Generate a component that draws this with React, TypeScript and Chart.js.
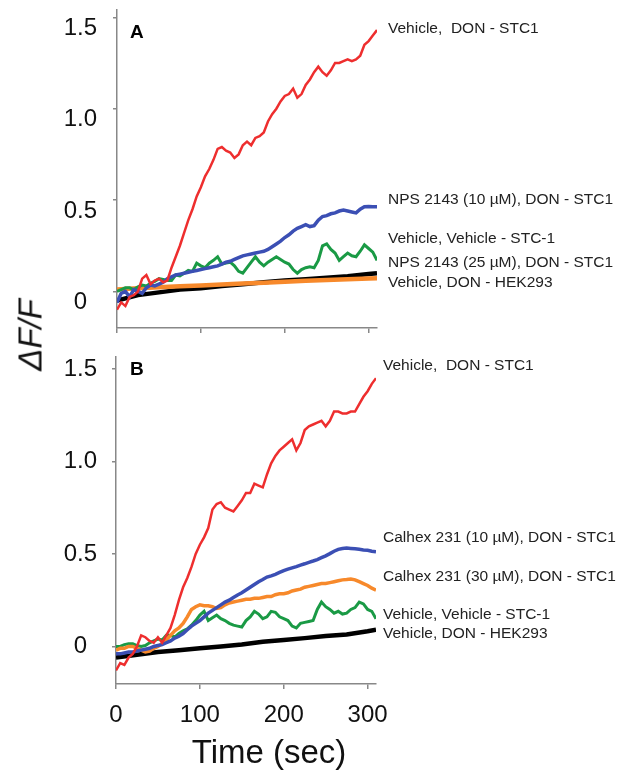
import React, { useEffect, useRef } from 'react';
import { Chart, registerables } from 'chart.js';

Chart.register(...registerables);

const FONT = '"Liberation Sans", Arial, Helvetica, sans-serif';

// Time axis (sec)
const TIME = [
  0, 5, 10, 15, 20, 25, 30, 35, 40, 45,
  50, 55, 60, 65, 70, 75, 80, 85, 90, 95,
  100, 105, 110, 115, 120, 125, 130, 135, 140, 145,
  150, 155, 160, 165, 170, 175, 180, 185, 190, 195,
  200, 205, 210, 215, 220, 225, 230, 235, 240, 245,
  250, 255, 260, 265, 270, 275, 280, 285, 290, 295,
  300, 305, 310,
];
const TIME_SMOOTH = [0, 25, 50, 75, 100, 125, 150, 175, 200, 225, 250, 275, 300, 310];
const X_TICKS = [0, 100, 200, 300];
const Y_TICKS = [0, 0.5, 1.0, 1.5];

// Panel A
const RED_A = [
  -0.10, -0.06, -0.08, -0.03, -0.02, 0.00, 0.07, 0.09, 0.04, 0.06,
  0.07, 0.05, 0.06, 0.13, 0.19, 0.25, 0.32, 0.39, 0.45, 0.52,
  0.57, 0.63, 0.67, 0.72, 0.78, 0.79, 0.77, 0.76, 0.73, 0.75,
  0.80, 0.82, 0.80, 0.84, 0.85, 0.87, 0.93, 0.97, 1.00, 1.04,
  1.07, 1.08, 1.11, 1.06, 1.08, 1.13, 1.16, 1.20, 1.23, 1.20,
  1.18, 1.21, 1.25, 1.25, 1.26, 1.27, 1.26, 1.27, 1.29, 1.35,
  1.37, 1.40, 1.43,
];
const BLUE_A = [
  -0.06, -0.01, 0.00, -0.03, 0.01, 0.00, -0.01, 0.02, 0.035, 0.03,
  0.04, 0.05, 0.07, 0.08, 0.09, 0.095, 0.10, 0.105, 0.11, 0.115,
  0.12, 0.125, 0.13, 0.135, 0.14, 0.15, 0.16, 0.165, 0.175, 0.185,
  0.195, 0.20, 0.205, 0.21, 0.215, 0.22, 0.23, 0.245, 0.26, 0.275,
  0.295, 0.31, 0.33, 0.345, 0.355, 0.365, 0.355, 0.36, 0.39, 0.41,
  0.415, 0.425, 0.43, 0.44, 0.445, 0.44, 0.435, 0.43, 0.45, 0.463,
  0.465, 0.463, 0.463,
];
const GREEN_A = [
  0.00, 0.01, 0.02, 0.02, 0.01, 0.025, 0.035, 0.03, 0.045, 0.055,
  0.07, 0.065, 0.06, 0.06, 0.09, 0.085, 0.10, 0.115, 0.11, 0.155,
  0.14, 0.13, 0.155, 0.17, 0.19, 0.15, 0.155, 0.16, 0.14, 0.11,
  0.10, 0.13, 0.16, 0.19, 0.16, 0.14, 0.16, 0.175, 0.19, 0.175,
  0.16, 0.15, 0.12, 0.10, 0.12, 0.13, 0.135, 0.13, 0.17, 0.25,
  0.26, 0.23, 0.21, 0.17, 0.19, 0.21, 0.195, 0.19, 0.22, 0.255,
  0.235, 0.215, 0.17,
];
const ORANGE_A = [0.01, 0.018, 0.023, 0.028, 0.033, 0.038, 0.043, 0.048, 0.053, 0.058, 0.063, 0.067, 0.071, 0.072];
const BLACK_A = [-0.05, -0.02, -0.005, 0.01, 0.018, 0.03, 0.04, 0.05, 0.06, 0.067, 0.075, 0.083, 0.096, 0.10];

// Panel B
const RED_B = [
  -0.13, -0.09, -0.10, -0.06, -0.04, 0.00, 0.06, 0.05, 0.03, 0.02,
  0.05, 0.02, 0.06, 0.10, 0.17, 0.25, 0.32, 0.37, 0.43, 0.50,
  0.55, 0.59, 0.64, 0.74, 0.77, 0.78, 0.75, 0.74, 0.73, 0.76,
  0.79, 0.83, 0.83, 0.88, 0.87, 0.86, 0.93, 0.99, 1.03, 1.06,
  1.08, 1.10, 1.12, 1.06, 1.10, 1.17, 1.19, 1.20, 1.21, 1.22,
  1.19, 1.22, 1.27, 1.27, 1.26, 1.26, 1.27, 1.27, 1.31, 1.35,
  1.38, 1.42, 1.45,
];
const BLUE_B = [
  -0.04, -0.04, -0.035, -0.03, -0.03, -0.025, -0.02, -0.015, -0.01, 0.00,
  0.005, 0.01, 0.02, 0.03, 0.045, 0.055, 0.07, 0.09, 0.11, 0.125,
  0.14, 0.16, 0.18, 0.195, 0.21, 0.225, 0.24, 0.25, 0.265, 0.278,
  0.29, 0.305, 0.32, 0.335, 0.35, 0.362, 0.375, 0.382, 0.39, 0.40,
  0.41, 0.418, 0.425, 0.432, 0.44, 0.447, 0.455, 0.462, 0.47, 0.48,
  0.49, 0.502, 0.515, 0.525, 0.53, 0.532, 0.53, 0.528, 0.525, 0.522,
  0.52, 0.515, 0.512,
];
const ORANGE_B = [
  -0.02, -0.01, -0.01, 0.00, 0.00, -0.01, -0.02, -0.03, -0.025, -0.01,
  0.00, 0.015, 0.035, 0.06, 0.085, 0.10, 0.125, 0.16, 0.20, 0.215,
  0.225, 0.22, 0.22, 0.215, 0.205, 0.21, 0.225, 0.235, 0.24, 0.245,
  0.25, 0.255, 0.255, 0.26, 0.26, 0.265, 0.27, 0.27, 0.28, 0.285,
  0.285, 0.29, 0.30, 0.305, 0.31, 0.32, 0.325, 0.33, 0.335, 0.34,
  0.34, 0.345, 0.35, 0.355, 0.36, 0.362, 0.365, 0.36, 0.35, 0.34,
  0.33, 0.315, 0.305,
];
const GREEN_B = [
  0.00, 0.00, 0.01, 0.015, 0.015, 0.005, 0.00, 0.005, 0.02, 0.03,
  0.04, 0.035, 0.06, 0.06, 0.05, 0.07, 0.085, 0.095, 0.115, 0.14,
  0.17, 0.19, 0.14, 0.155, 0.17, 0.15, 0.14, 0.125, 0.115, 0.11,
  0.105, 0.14, 0.16, 0.19, 0.175, 0.15, 0.16, 0.19, 0.185, 0.16,
  0.15, 0.14, 0.11, 0.10, 0.125, 0.13, 0.135, 0.14, 0.20, 0.24,
  0.215, 0.20, 0.18, 0.19, 0.175, 0.18, 0.20, 0.21, 0.24, 0.23,
  0.20, 0.19, 0.15,
];
const BLACK_B = [-0.06, -0.045, -0.03, -0.02, -0.01, 0.0, 0.01, 0.025, 0.035, 0.045, 0.057, 0.065, 0.082, 0.09];

// Series labels (text and the value they sit at)
const LABELS_A = [
  'Vehicle,  DON - STC1',
  'NPS 2143 (10 µM), DON - STC1',
  'Vehicle, Vehicle - STC-1',
  'NPS 2143 (25 µM), DON - STC1',
  'Vehicle, DON - HEK293',
];
const LABEL_VALUES_A = [1.44, 0.50, 0.287, 0.156, 0.046];
const LABELS_B = [
  'Vehicle,  DON - STC1',
  'Calhex 231 (10 µM), DON - STC1',
  'Calhex 231 (30 µM), DON - STC1',
  'Vehicle, Vehicle - STC-1',
  'Vehicle, DON - HEK293',
];
const LABEL_VALUES_B = [1.516, 0.586, 0.376, 0.170, 0.068];

const COLORS = {
  red: '#ee2e2e',
  blue: '#3b4fb4',
  green: '#1a9a45',
  orange: '#f7892b',
  black: '#000000',
};

const pts = (xs: number[], ys: number[]) => xs.map((x, i) => ({ x, y: ys[i] }));

const line = (data: any, color: string, width: number, order: number) => ({
  data,
  borderColor: color,
  backgroundColor: color,
  borderWidth: width,
  pointRadius: 0,
  tension: 0,
  fill: false,
  order,
});

const annotPlugin = {
  id: 'annot',
  afterDraw(chart: any, _args: any, opts: any) {
    const { ctx, chartArea, scales } = chart;
    ctx.save();
    ctx.font = `15.5px ${FONT}`;
    ctx.fillStyle = '#222';
    ctx.textBaseline = 'middle';
    ctx.textAlign = 'left';
    opts.texts.forEach((t: string, i: number) => {
      ctx.fillText(t, chartArea.right + opts.dx, scales.y.getPixelForValue(opts.values[i]));
    });
    ctx.font = `bold 19px ${FONT}`;
    ctx.fillStyle = '#000';
    ctx.textBaseline = 'alphabetic';
    ctx.fillText(opts.letter, opts.letterX, opts.letterY);
    if (opts.xTitle) {
      ctx.font = `33px ${FONT}`;
      ctx.textAlign = 'center';
      ctx.fillStyle = '#111';
      ctx.fillText(opts.xTitle, opts.xTitleX, opts.xTitleY);
    }
    ctx.restore();
  },
};

function makeConfig(p: any) {
  return {
    type: 'line',
    data: { datasets: p.datasets },
    plugins: [annotPlugin],
    options: {
      animation: false,
      responsive: false,
      devicePixelRatio: 1,
      layout: { autoPadding: false, padding: { top: p.padTop, right: p.padRight, left: 0, bottom: 0 } },
      plugins: {
        legend: { display: false },
        tooltip: { enabled: false },
        annot: p.annot,
      },
      scales: {
        x: {
          type: 'linear',
          min: 0,
          max: 310,
          afterFit: (s: any) => {
            s.height = p.xHeight;
            s.paddingLeft = 0; s.paddingRight = 0; s.paddingTop = 0; s.paddingBottom = 0;
          },
          afterBuildTicks: (s: any) => { s.ticks = X_TICKS.map((v) => ({ value: v })); },
          border: { display: true, color: '#888', width: 1.5 },
          grid: { drawOnChartArea: false, drawTicks: true, tickLength: 5, color: '#888', lineWidth: 1.5 },
          ticks: {
            display: p.showXLabels,
            font: { family: FONT, size: 24 },
            color: '#111',
            padding: 12,
            maxRotation: 0,
            callback: (v: any) => String(v),
          },
        },
        y: {
          type: 'linear',
          min: p.yMin,
          max: p.yMax,
          afterFit: (s: any) => {
            s.width = p.yWidth;
            s.paddingLeft = 0; s.paddingRight = 0; s.paddingTop = 0; s.paddingBottom = 0;
          },
          afterBuildTicks: (s: any) => { s.ticks = Y_TICKS.map((v) => ({ value: v })); },
          border: { display: true, color: '#888', width: 1.5 },
          grid: { drawOnChartArea: false, drawTicks: true, tickLength: 4, color: '#888', lineWidth: 1.5 },
          ticks: {
            font: { family: FONT, size: 24 },
            color: '#111',
            crossAlign: 'center',
            padding: p.yPad,
            labelOffset: p.yLabelOffset,
            callback: (v: any) => (v === 0 ? '0' : Number(v).toFixed(1)),
          },
        },
      },
    },
  };
}

export default function App() {
  const refA = useRef<HTMLCanvasElement>(null);
  const refB = useRef<HTMLCanvasElement>(null);

  useEffect(() => {
    const chartA = new Chart(refA.current as any, makeConfig({
      datasets: [
        line(pts(TIME, RED_A), COLORS.red, 2.5, 0),
        line(pts(TIME, BLUE_A), COLORS.blue, 3.5, 1),
        line(pts(TIME, GREEN_A), COLORS.green, 3, 2),
        line(pts(TIME_SMOOTH, ORANGE_A), COLORS.orange, 4.5, 3),
        line(pts(TIME_SMOOTH, BLACK_A), COLORS.black, 4.5, 4),
      ],
      padTop: 10,
      padRight: 248,
      xHeight: 12,
      yWidth: 117,
      yMin: -0.2,
      yMax: 1.54,
      yPad: 16,
      yLabelOffset: 11,
      showXLabels: false,
      annot: { texts: LABELS_A, values: LABEL_VALUES_A, dx: 11, letter: 'A', letterX: 130, letterY: 38 },
    }) as any);

    const chartB = new Chart(refB.current as any, makeConfig({
      datasets: [
        line(pts(TIME, RED_B), COLORS.red, 2.5, 0),
        line(pts(TIME, BLUE_B), COLORS.blue, 3.5, 1),
        line(pts(TIME, ORANGE_B), COLORS.orange, 3.5, 2),
        line(pts(TIME, GREEN_B), COLORS.green, 3, 3),
        line(pts(TIME_SMOOTH, BLACK_B), COLORS.black, 4.5, 4),
      ],
      padTop: 17,
      padRight: 249,
      xHeight: 89,
      yWidth: 116,
      yMin: -0.203,
      yMax: 1.565,
      yPad: 15,
      yLabelOffset: 0,
      showXLabels: true,
      annot: {
        texts: LABELS_B, values: LABEL_VALUES_B, dx: 7, letter: 'B', letterX: 130, letterY: 35,
        xTitle: 'Time (sec)', xTitleX: 269, xTitleY: 423,
      },
    }) as any);

    return () => {
      chartA.destroy();
      chartB.destroy();
    };
  }, []);

  return (
    <div style={{ position: 'absolute', left: 0, top: 0, width: 625, height: 773, background: '#fff', overflow: 'hidden' }}>
      <canvas ref={refA} width={625} height={340} style={{ position: 'absolute', left: 0, top: 0, width: 625, height: 340 }} />
      <canvas ref={refB} width={625} height={433} style={{ position: 'absolute', left: 0, top: 340, width: 625, height: 433 }} />
      <div
        style={{
          position: 'absolute',
          left: 30,
          top: 335,
          transform: 'translate(-50%, -50%) rotate(-90deg)',
          font: `italic 33px ${FONT}`,
          color: '#111',
          whiteSpace: 'nowrap',
          lineHeight: 1,
        }}
      >
        ΔF/F
      </div>
    </div>
  );
}
